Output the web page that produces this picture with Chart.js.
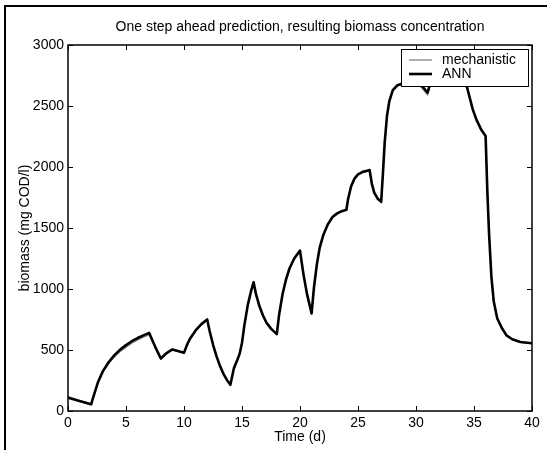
<!DOCTYPE html>
<html lang="en">
<head>
<meta charset="UTF-8">
<title>One step ahead prediction - biomass</title>
<script src="https://cdn.jsdelivr.net/npm/chart.js@4"></script>
<style>
  html, body { margin: 0; padding: 0; background: #fff; }
  #wrap { position: relative; width: 547px; height: 450px; }
</style>
</head>
<body>
<div id="wrap"><canvas id="biomassChart"></canvas></div>
<script>
// time (d) and biomass concentration (mg COD/l) for both models
const days = [0, 1, 2, 2.1, 2.3, 2.6, 3, 3.5, 4, 4.5, 5, 5.5, 6, 6.5, 7, 7.5, 8, 8.5, 9, 10,
  10.25, 10.5, 11, 11.5, 12, 12.2, 12.5, 12.8, 13.1, 13.4, 13.7, 14, 14.3, 14.6, 14.8, 15, 15.2, 15.5, 15.8, 16,
  16.2, 16.5, 16.8, 17.1, 17.5, 18, 18.2, 18.5, 18.8, 19.1, 19.5, 20, 20.3, 20.6, 21, 21.2, 21.45, 21.7, 22, 22.4,
  22.8, 23.2, 23.6, 24, 24.15, 24.4, 24.7, 25, 25.4, 25.8, 26, 26.2, 26.4, 26.7, 27, 27.15, 27.3, 27.5, 27.7, 28,
  28.4, 29, 30, 30.5, 31, 31.3, 32, 33, 34, 34.3, 34.6, 34.9, 35.2, 35.6, 36, 36.15, 36.3, 36.5, 36.7, 37,
  37.4, 37.8, 38.3, 39, 40];

const mechanistic = [105, 78, 50, 88, 148, 236, 318, 388, 443, 487, 523, 556, 583, 605, 626, 525, 428, 472, 502, 476,
  537, 587, 656, 708, 746, 657, 542, 447, 367, 302, 252, 212, 347, 417, 467, 556, 695, 865, 985, 1050,
  956, 856, 781, 721, 671, 627, 786, 955, 1075, 1165, 1245, 1310, 1116, 956, 796, 1005, 1195, 1335, 1435, 1525,
  1585, 1615, 1633, 1646, 1735, 1835, 1900, 1935, 1956, 1966, 1971, 1856, 1786, 1736, 1711, 1945, 2195, 2415, 2535, 2625,
  2665, 2685, 2682, 2650, 2590, 2705, 2745, 2755, 2735, 2685, 2575, 2465, 2385, 2305, 2250, 1795, 1445, 1095, 895, 755,
  676, 616, 585, 562, 552];

const ann = [110, 82, 55, 90, 150, 240, 325, 400, 458, 503, 540, 572, 598, 620, 640, 530, 430, 475, 505, 478,
  540, 590, 660, 712, 750, 660, 545, 450, 370, 305, 255, 215, 350, 420, 470, 560, 700, 870, 990, 1055,
  960, 860, 785, 725, 675, 630, 790, 960, 1080, 1170, 1250, 1315, 1120, 960, 800, 1010, 1200, 1340, 1440, 1530,
  1590, 1620, 1638, 1650, 1740, 1840, 1905, 1940, 1960, 1970, 1975, 1860, 1790, 1740, 1715, 1950, 2200, 2420, 2540, 2630,
  2670, 2690, 2690, 2665, 2610, 2710, 2750, 2760, 2740, 2690, 2580, 2470, 2390, 2310, 2255, 1800, 1450, 1100, 900, 760,
  680, 620, 588, 565, 555];

const xTicks = [0, 5, 10, 15, 20, 25, 30, 35, 40];
const yTicks = [0, 500, 1000, 1500, 2000, 2500, 3000];

const FONT = '"Liberation Sans", Arial, Helvetica, sans-serif';

function toPoints(xs, ys) {
  return xs.map((x, i) => ({ x: x, y: ys[i] }));
}

// thin figure edge along the left and top
const figureEdge = {
  id: 'figureEdge',
  beforeDraw(chart) {
    const ctx = chart.ctx;
    ctx.save();
    ctx.strokeStyle = '#000';
    ctx.lineWidth = 2;
    ctx.beginPath();
    ctx.moveTo(5, chart.height);
    ctx.lineTo(5, 6);
    ctx.lineTo(chart.width, 6);
    ctx.stroke();
    ctx.restore();
  }
};

// closed axes box with inward ticks on all four sides
const axesBox = {
  id: 'axesBox',
  afterDatasetsDraw(chart) {
    const { ctx, chartArea: a, scales } = chart;
    const len = 5;
    ctx.save();
    ctx.strokeStyle = '#000';
    ctx.lineWidth = 1;
    ctx.beginPath();
    scales.x.ticks.forEach(t => {
      const px = Math.round(scales.x.getPixelForValue(t.value)) + 0.5;
      ctx.moveTo(px, a.bottom); ctx.lineTo(px, a.bottom - len);
      ctx.moveTo(px, a.top); ctx.lineTo(px, a.top + len);
    });
    scales.y.ticks.forEach(t => {
      const py = Math.round(scales.y.getPixelForValue(t.value)) + 0.5;
      ctx.moveTo(a.left, py); ctx.lineTo(a.left + len, py);
      ctx.moveTo(a.right, py); ctx.lineTo(a.right - len, py);
    });
    ctx.stroke();
    ctx.lineWidth = 1.5;
    ctx.strokeRect(a.left, a.top, a.right - a.left, a.bottom - a.top);
    ctx.restore();
  }
};

// legend box in the upper right corner of the plot
const cornerLegend = {
  id: 'cornerLegend',
  afterDraw(chart) {
    const { ctx, chartArea: a } = chart;
    const w = 127, h = 37;
    const left = a.right - 4 - w, top = a.top + 4;
    ctx.save();
    ctx.fillStyle = '#fff';
    ctx.fillRect(left, top, w, h);
    ctx.strokeStyle = '#000';
    ctx.lineWidth = 1;
    ctx.strokeRect(left + 0.5, top + 0.5, w, h);
    ctx.font = '14px ' + FONT;
    ctx.textBaseline = 'middle';
    chart.data.datasets.forEach((ds, i) => {
      const y = top + 11 + i * 14;
      ctx.strokeStyle = ds.borderColor;
      ctx.lineWidth = ds.borderWidth;
      ctx.beginPath();
      ctx.moveTo(left + 8, y);
      ctx.lineTo(left + 31, y);
      ctx.stroke();
      ctx.fillStyle = '#000';
      ctx.fillText(ds.label, left + 41, y);
    });
    ctx.restore();
  }
};

new Chart(document.getElementById('biomassChart'), {
  type: 'line',
  data: {
    datasets: [
      {
        label: 'mechanistic',
        data: toPoints(days, mechanistic),
        borderColor: '#7a7a7a',
        borderWidth: 1.2,
        order: 1
      },
      {
        label: 'ANN',
        data: toPoints(days, ann),
        borderColor: '#000',
        borderWidth: 2.6,
        order: 0
      }
    ]
  },
  options: {
    responsive: true,
    maintainAspectRatio: false,
    animation: false,
    layout: { padding: { left: 0, right: 15, top: 0, bottom: 0 } },
    elements: {
      point: { radius: 0 },
      line: { tension: 0, borderJoinStyle: 'round', fill: false }
    },
    plugins: {
      legend: { display: false },
      tooltip: { enabled: false },
      title: {
        display: true,
        fullSize: false,
        text: 'One step ahead prediction, resulting biomass concentration',
        color: '#000',
        font: { family: FONT, size: 14, weight: 'normal' },
        padding: { top: 18.5, bottom: 9.7 }
      }
    },
    scales: {
      x: {
        type: 'linear',
        min: 0,
        max: 40,
        afterBuildTicks: s => { s.ticks = xTicks.map(v => ({ value: v })); },
        afterFit: s => { s.height = 39; },
        grid: { display: false, drawTicks: false },
        border: { display: false },
        ticks: { color: '#000', padding: 4, font: { family: FONT, size: 14 }, callback: v => String(v) },
        title: {
          display: true,
          text: 'Time (d)',
          color: '#000',
          font: { family: FONT, size: 14 },
          padding: { top: 0, bottom: 4.6 }
        }
      },
      y: {
        type: 'linear',
        min: 0,
        max: 3000,
        afterBuildTicks: s => { s.ticks = yTicks.map(v => ({ value: v })); },
        afterFit: s => { s.width = 68; },
        grid: { display: false, drawTicks: false },
        border: { display: false },
        ticks: { color: '#000', padding: 4, font: { family: FONT, size: 14 }, callback: v => String(v) },
        title: {
          display: true,
          text: 'biomass (mg COD/l)',
          color: '#000',
          font: { family: FONT, size: 14 },
          padding: { top: 16.6, bottom: 0 }
        }
      }
    }
  },
  plugins: [figureEdge, axesBox, cornerLegend]
});
</script>
</body>
</html>
